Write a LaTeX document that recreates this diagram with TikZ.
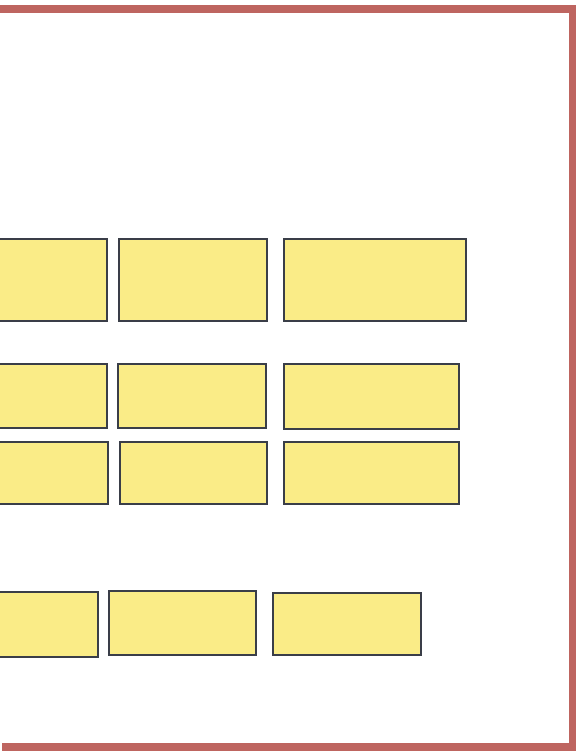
\documentclass[tikz,border=0pt]{standalone}
\definecolor{frame}{RGB}{190,101,96}
\definecolor{boxfill}{RGB}{250,236,135}
\definecolor{boxline}{RGB}{58,62,72}
\tikzset{
  box/.style={draw=boxline, fill=boxfill, line width=2pt, inner sep=0pt, rectangle},
  framebar/.style={draw=frame, line width=7.5pt, line cap=butt, line join=miter}
}
\newcommand{\bx}[5]{% name, x1, y1, x2, y2
  \node[box, minimum width={(#4-#2)*1pt}, minimum height={(#5-#3)*1pt}] (#1) at ({(#2+#4)/2}, {-(#3+#5)/2}) {};
}
\begin{document}
\begin{tikzpicture}[x=1pt, y=1pt]
\useasboundingbox (0,0) rectangle (577,-751);
\clip (0,0) rectangle (577,-751);
\fill[white] (0,0) rectangle (577,-751);
% frame
\coordinate (tl) at (-5,-9);
\coordinate (tr) at (572.5,-9);
\coordinate (br) at (572.5,-747);
\coordinate (bl) at (2,-747);
\draw[framebar] (tl) -- (tr) -- (br) -- (bl);
% row 1
\bx{a1}{-20}{239}{107}{321}
\bx{b1}{119}{239}{267}{321}
\bx{c1}{284}{239}{466}{321}
% row 2
\bx{a2}{-20}{364}{107}{428}
\bx{b2}{118}{364}{266}{428}
\bx{c2}{284}{364}{459}{429}
% row 3
\bx{a3}{-20}{442}{108}{504}
\bx{b3}{120}{442}{267}{504}
\bx{c3}{284}{442}{459}{504}
% row 4
\bx{a4}{-20}{592}{98}{657}
\bx{b4}{109}{591}{256}{655}
\bx{c4}{273}{593}{421}{655}
\end{tikzpicture}
\end{document}
